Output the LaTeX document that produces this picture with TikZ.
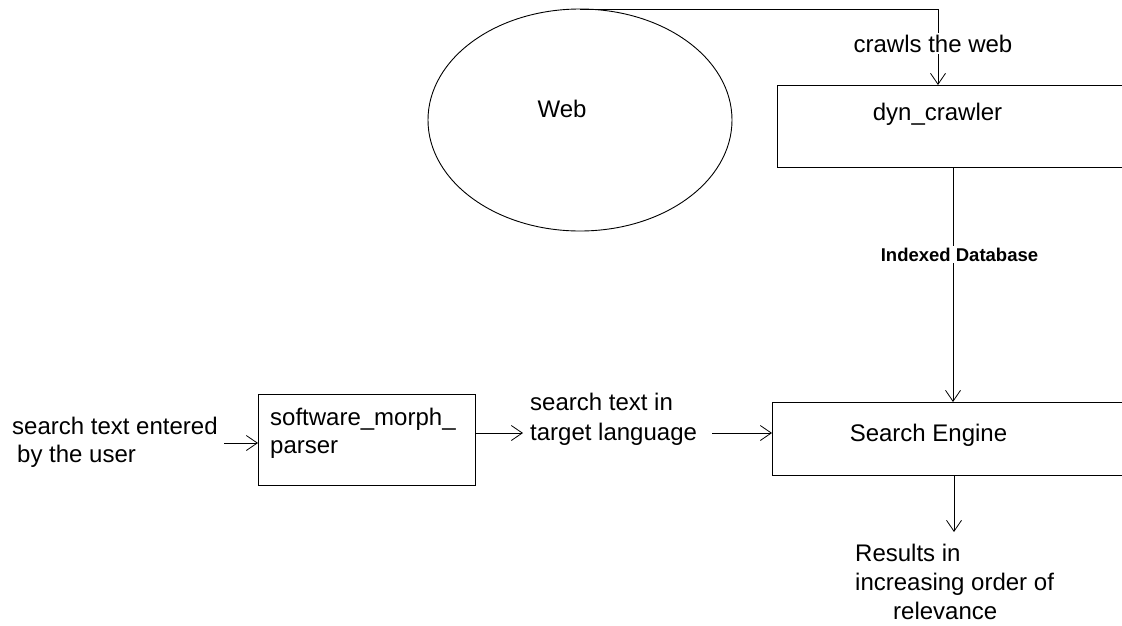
\documentclass[tikz,border=0pt]{standalone}
\usepackage{fontspec}
\setmainfont{Liberation Sans}
\usetikzlibrary{arrows.meta}
\begin{document}
\begin{tikzpicture}[x=1pt,y=-1pt,
  lbl/.style={inner sep=0pt,font=\fontsize{24}{28}\selectfont},
  boxshape/.style={draw,line width=1.3pt,rectangle,inner sep=0pt,anchor=north west},
  conn/.style={line width=1pt,-{Straight Barb[length=11pt,width=15pt,line width=0.8pt]}},
  plain/.style={line width=1pt}]
\useasboundingbox (0,0) rectangle (1122,625);
\clip (0,0) rectangle (1122,625);
% shapes
\draw[line width=0.9pt] (580,120) ellipse [x radius=152, y radius=111];
\coordinate (webtop) at (580,9);
\node[lbl,anchor=base] (web) at (562,117) {Web};
\node[boxshape,minimum width=380pt,minimum height=82pt] (dyn) at (777,85) {};
\node[lbl,anchor=base] (dyntxt) at (937.5,120) {dyn\_crawler};
\node[boxshape,minimum width=380pt,minimum height=73pt] (se) at (772,402) {};
\node[lbl,anchor=base] (setxt) at (928.5,441) {Search Engine};
\node[boxshape,minimum width=217pt,minimum height=91pt] (smp) at (258,394) {};
\node[lbl,anchor=north west,align=left] (smptxt) at (270,408) {software\_morph\_\\parser};
\node[lbl,anchor=north west,align=left] (user) at (12,417) {search text entered\\\hspace*{5pt}by the user};
\node[lbl,anchor=north west,align=left,font=\fontsize{24}{30}\selectfont] (tgt) at (530,392.5) {search text in\\target language};
\node[lbl,anchor=north west,align=left,font=\fontsize{24}{29}\selectfont] (res) at (855,544) {Results in\\increasing order of\\\hspace*{38pt}relevance};
% connectors
\coordinate (bend) at (938,9);
\draw[conn] (webtop) -- (bend) -- (bend |- dyn.north);
\node[lbl,anchor=base,fill=white,inner ysep=2pt] (crawl) at (933,52) {crawls the web};
\draw[conn] (953,167) -- (953,402);
\node[lbl,anchor=base,fill=white,inner sep=2pt,font=\fontsize{18.5}{22}\bfseries] (idx) at (959.5,261) {Indexed Database};
\coordinate (resin) at (954,532);
\draw[conn] (954,475) -- (resin);
\coordinate (uin) at (224,443);
\draw[conn] (uin) -- (uin -| smp.west);
\coordinate (tin) at (523,433);
\draw[conn] (tin -| smp.east) -- (tin);
\coordinate (tout) at (712,433);
\draw[conn] (tout) -- (tout -| se.west);
\end{tikzpicture}
\end{document}
